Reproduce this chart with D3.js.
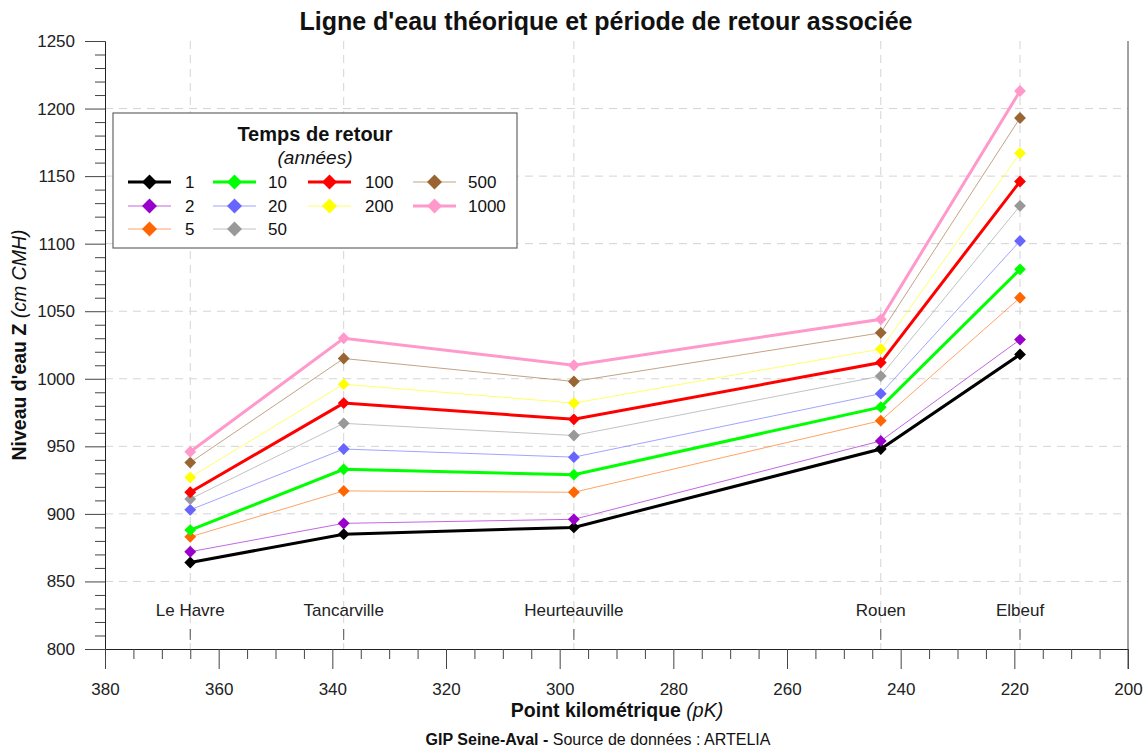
<!DOCTYPE html>
<html>
<head>
<meta charset="utf-8">
<script src="https://cdn.jsdelivr.net/npm/d3@7"></script>
<style>
body { margin: 0; background: #fff; }
svg { font-family: "Liberation Sans", Arial, sans-serif; }
</style>
</head>
<body>
<div id="chart"></div>
<script>
// stations along the Seine (point kilométrique)
var stations = ["Le Havre", "Tancarville", "Heurteauville", "Rouen", "Elbeuf"];
var pk = [365, 338, 297.5, 243.5, 219];

// return periods (years) and water levels (cm CMH) at each station
var periods = ["1", "2", "5", "10", "20", "50", "100", "200", "500", "1000"];
var z1    = [864, 885, 890, 948, 1018];
var z2    = [872, 893, 896, 954, 1029];
var z5    = [883, 917, 916, 969, 1060];
var z10   = [888, 933, 929, 979, 1081];
var z20   = [903, 948, 942, 989, 1102];
var z50   = [911, 967, 958, 1002, 1128];
var z100  = [916, 982, 970, 1012, 1146];
var z200  = [927, 996, 982, 1022, 1167];
var z500  = [938, 1015, 998, 1034, 1193];
var z1000 = [946, 1030, 1010, 1044, 1213];

var colors = ["#000000", "#9900cc", "#ff6600", "#00ff00", "#6666ff", "#999999", "#ff0000", "#ffff00", "#996633", "#ff99cc"];
var thick = ["1", "10", "100", "1000"];

var series = [z1, z2, z5, z10, z20, z50, z100, z200, z500, z1000].map(function(v, i) {
	return { name: periods[i], color: colors[i], values: v };
});

var width = 1146, height = 749;
var mLeft = 105, mRight = 1128, mTop = 41, mBottom = 649;

var svg = d3.select("#chart").append("svg").attr("width", width).attr("height", height);

var x = d3.scaleLinear().domain([380, 200]).range([mLeft, mRight]);
var y = d3.scaleLinear().domain([800, 1250]).range([mBottom, mTop]);

// grid
var grid = svg.append("g").attr("class", "grid")
	.attr("stroke", "#d4d4d4").attr("stroke-dasharray", "8,6").attr("stroke-width", 1);
grid.selectAll("line.h")
	.data(d3.range(850, 1250, 50))
	.enter().append("line")
		.attr("x1", mLeft).attr("x2", mRight)
		.attr("y1", d => y(d)).attr("y2", d => y(d));
grid.selectAll("line.v")
	.data(pk)
	.enter().append("line")
		.attr("x1", d => x(d)).attr("x2", d => x(d))
		.attr("y1", mTop).attr("y2", mBottom);

// station ticks and names
svg.append("g").selectAll("line")
	.data(pk)
	.enter().append("line")
		.attr("x1", d => x(d)).attr("x2", d => x(d))
		.attr("y1", mBottom - 20).attr("y2", mBottom - 9)
		.attr("stroke", "#555").attr("stroke-width", 1);
svg.append("g").selectAll("text")
	.data(stations)
	.enter().append("text")
		.attr("x", (d, i) => x(pk[i]))
		.attr("y", 616)
		.attr("text-anchor", "middle")
		.attr("font-size", 17)
		.attr("fill", "#222")
		.text(d => d);

// axes
svg.append("g").attr("transform", "translate(" + mLeft + ",0)")
	.call(d3.axisLeft(y).tickValues(d3.range(800, 1251, 50)).tickSize(20).tickPadding(10).tickFormat(d3.format("d")));
svg.append("g").attr("transform", "translate(" + mLeft + ",0)")
	.call(d3.axisLeft(y).tickValues(d3.range(800, 1251, 10).filter(d => d % 50)).tickSize(10).tickFormat(""))
	.select(".domain").remove();

svg.append("g").attr("transform", "translate(0," + mBottom + ")")
	.call(d3.axisBottom(x).tickValues(d3.range(200, 381, 20)).tickSize(20).tickPadding(14).tickFormat(d3.format("d")));
svg.append("g").attr("transform", "translate(0," + mBottom + ")")
	.call(d3.axisBottom(x).tickValues(d3.range(200, 381, 5).filter(d => d % 20)).tickSize(10).tickFormat(""))
	.select(".domain").remove();

svg.selectAll(".tick text").attr("font-size", 17).attr("fill", "#222").attr("font-family", "Liberation Sans, Arial, sans-serif");
svg.selectAll(".domain").attr("stroke", "#222");
svg.selectAll(".tick line").attr("stroke", "#444");

// right border
svg.append("line")
	.attr("x1", mRight).attr("x2", mRight).attr("y1", mTop).attr("y2", mBottom + 20)
	.attr("stroke", "#444");

// lines
var line = d3.line()
	.x((d, i) => x(pk[i]))
	.y(d => y(d));

var lines = svg.append("g").attr("class", "series");
series.forEach(function(s) {
	var isThick = thick.indexOf(s.name) >= 0;
	var g = lines.append("g");
	g.append("path")
		.datum(s.values)
		.attr("fill", "none")
		.attr("stroke", s.color)
		.attr("stroke-opacity", isThick ? 1 : 0.6)
		.attr("stroke-width", isThick ? 3 : 1)
		.attr("d", line);
	g.selectAll("path.pt")
		.data(s.values)
		.enter().append("path")
			.attr("class", "pt")
			.attr("transform", (d, i) => "translate(" + x(pk[i]) + "," + y(d) + ") rotate(45)")
			.attr("d", d3.symbol().type(d3.symbolSquare).size(70))
			.attr("fill", s.color);
});

// legend
var legend = svg.append("g").attr("class", "legend");
legend.append("rect")
	.attr("x", 113).attr("y", 113).attr("width", 404).attr("height", 135)
	.attr("fill", "#fff").attr("stroke", "#666").attr("stroke-width", 1.2);
legend.append("text")
	.attr("x", 315).attr("y", 141).attr("text-anchor", "middle")
	.attr("font-size", 20).attr("font-weight", "bold").attr("fill", "#111")
	.text("Temps de retour");
legend.append("text")
	.attr("x", 315).attr("y", 164).attr("text-anchor", "middle")
	.attr("font-size", 19).attr("font-style", "italic").attr("fill", "#111")
	.text("(années)");

var colX = [128, 213, 308, 413];
var labX = [185, 268, 365, 468];
var rowY = [182, 206, 229];
var layout = [[0, 0], [0, 1], [0, 2], [1, 0], [1, 1], [1, 2], [2, 0], [2, 1], [3, 0], [3, 1]];

series.forEach(function(s, i) {
	var c = layout[i][0], r = layout[i][1];
	var isThick = thick.indexOf(s.name) >= 0;
	var item = legend.append("g");
	item.append("line")
		.attr("x1", colX[c]).attr("x2", colX[c] + 43)
		.attr("y1", rowY[r]).attr("y2", rowY[r])
		.attr("stroke", s.color)
		.attr("stroke-opacity", isThick ? 1 : 0.6)
		.attr("stroke-width", isThick ? 3 : 1);
	item.append("path")
		.attr("transform", "translate(" + (colX[c] + 21.5) + "," + rowY[r] + ") rotate(45)")
		.attr("d", d3.symbol().type(d3.symbolSquare).size(112))
		.attr("fill", s.color);
	item.append("text")
		.attr("x", labX[c]).attr("y", rowY[r] + 6)
		.attr("font-size", 17).attr("fill", "#111")
		.text(s.name);
});

// titles
svg.append("text")
	.attr("x", 606).attr("y", 30).attr("text-anchor", "middle")
	.attr("font-size", 25).attr("font-weight", "bold").attr("fill", "#111")
	.text("Ligne d'eau théorique et période de retour associée");

var xt = svg.append("text")
	.attr("x", 617).attr("y", 717).attr("text-anchor", "middle")
	.attr("font-size", 19.5).attr("fill", "#111");
xt.append("tspan").attr("font-weight", "bold").text("Point kilométrique ");
xt.append("tspan").attr("font-style", "italic").text("(pK)");

var yt = svg.append("text")
	.attr("transform", "translate(26,345) rotate(-90)")
	.attr("text-anchor", "middle")
	.attr("font-size", 19.5).attr("fill", "#111");
yt.append("tspan").attr("font-weight", "bold").text("Niveau d'eau Z ");
yt.append("tspan").attr("font-style", "italic").text("(cm CMH)");

var ft = svg.append("text")
	.attr("x", 598).attr("y", 745).attr("text-anchor", "middle")
	.attr("font-size", 16).attr("fill", "#111");
ft.append("tspan").attr("font-weight", "bold").text("GIP Seine-Aval - ");
ft.append("tspan").text("Source de données : ARTELIA");
</script>
</body>
</html>
